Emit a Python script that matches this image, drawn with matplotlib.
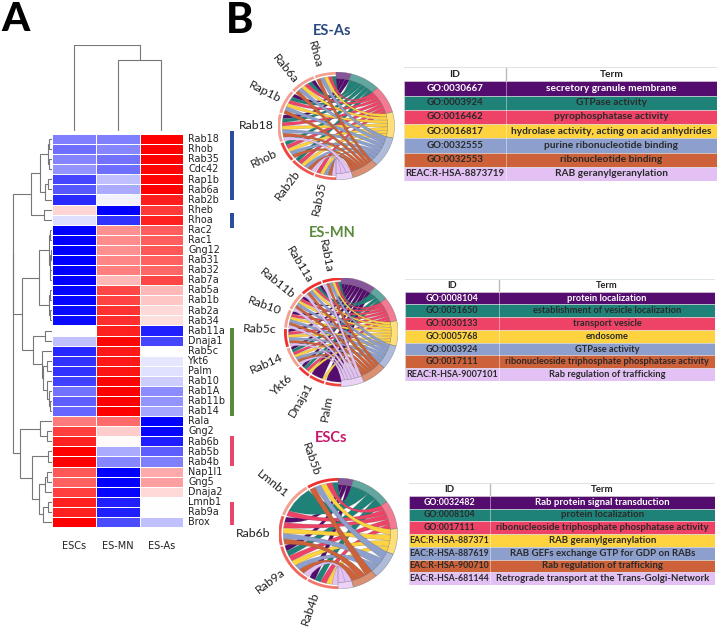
import numpy as np
import matplotlib
matplotlib.use('Agg')
import matplotlib.pyplot as plt
from matplotlib.path import Path
from matplotlib.patches import PathPatch
from matplotlib.colors import LinearSegmentedColormap

W, H = 720, 629
UI_FONT = ['Lato', 'DejaVu Sans']

# heatmap
genes = ['Rab18', 'Rhob', 'Rab35', 'Cdc42', 'Rap1b', 'Rab6a', 'Rab2b', 'Rheb', 'Rhoa', 'Rac2',
         'Rac1', 'Gng12', 'Rab31', 'Rab32', 'Rab7a', 'Rab5a', 'Rab1b', 'Rab2a', 'Rab34', 'Rab11a',
         'Dnaja1', 'Rab5c', 'Ykt6', 'Palm', 'Rab10', 'Rab1A', 'Rab11b', 'Rab14', 'Rala', 'Gng2',
         'Rab6b', 'Rab5b', 'Rab4b', 'Nap1l1', 'Gng5', 'Dnaja2', 'Lmnb1', 'Rab9a', 'Brox']
samples = ['ESCs', 'ES-MN', 'ES-As']
escs = [-0.5, -0.57, -0.48, -0.42, -0.72, -0.65, -0.83, 0.17, -0.13, -1, -1, -1, -1, -1, -1, -0.98, -0.97,
        -0.96, -0.96, 0, -0.25, -0.85, -0.8, -0.8, -0.75, -0.55, -0.63, -0.6, 0.52, 0.75, 0.87, 1, 1,
        0.65, 0.62, 0.75, 0.87, 0.87, 1]
es_mn = [-0.5, -0.47, -0.55, -0.57, -0.25, -0.33, -0.05, -1, -0.8, 0.43, 0.45, 0.43, 0.47, 0.5, 0.28, 0.72,
         0.74, 0.8, 0.82, 0.87, 0.97, 0.9, 0.9, 0.92, 0.98, 1, 1, 1, 0.58, 0.2, 0.02, -0.33, -0.47,
         -1, -1, -0.97, -0.87, -0.87, -0.7]
es_as = [1, 1, 1, 0.98, 0.98, 1, 0.88, 0.77, 0.87, 0.63, 0.63, 0.65, 0.62, 0.6, 0.72, 0.28, 0.22, 0.15,
         0.13, -0.87, -0.72, 0, -0.1, -0.12, -0.2, -0.45, -0.42, -0.35, -1, -0.98, -0.88, -0.63, -0.5,
         0.33, 0.38, 0.15, 0, 0, -0.25]

# dendrogram merges: (height, left, right), ints are leaves
row_tree = (39, (39, (21, (12, (4, (3, 0, 1), (3, 2, 3)), (7, (4, 4, 5), 6)), (8, 7, 8)),
                 (30, (13, (3, (2, 9, 10), (2, (1, 11, 12), (2, 13, 14))), (3, (2, 15, 16), (2, 17, 18))),
                  (19, (7, 19, 20), (10, 21, (9, (5, 22, 23), (5, 24, (3, 25, (2, 26, 27)))))))),
            (32, (12, 28, (5, 29, 30)), (20, (4, 31, 32), (13, (7, (5, 33, 34), 35), (9, (4, 36, 37), 38)))))
col_heights = [70, 85]  # (ES-MN, ES-As) then ESCs

sidebar_starts = [-0.3, 7.84, 19.25, 29.96, 36.5]
sidebar_ends = [6.55, 9.33, 27.98, 32.94, 38.8]
sidebar_colors = ['#2a4f9b', '#2a4f9b', '#5b8a3c', '#e8466a', '#e8466a']

# chords
term_colors = ['#540d6e', '#1e8278', '#ee4266', '#ffd23f', '#8d9fcd', '#cd6139', '#e3c1f5']

as_genes = ['Rhoa', 'Rab6a', 'Rap1b', 'Rab18', 'Rhob', 'Rab2b', 'Rab35']
as_fc = [1, 1, 1, 1, 0.8, 0.65, 0.5]
as_label_angles = [105, 129, 153, 180, 206, 233, 258]
as_term_spans = [15, 30, 30, 28, 33, 27, 17]
as_links = [[0, 1, 1, 1, 1, 1, 0],
            [1, 1, 1, 1, 1, 1, 0],
            [1, 1, 1, 1, 1, 1, 0],
            [1, 1, 1, 1, 1, 1, 1],
            [0, 1, 1, 1, 1, 1, 0],
            [0, 1, 1, 1, 1, 1, 1],
            [0, 0, 1, 1, 1, 1, 1]]

mn_genes = ['Rab1a', 'Rab11a', 'Rab11b', 'Rab10', 'Rab5c', 'Rab14', 'Ykt6', 'Dnaja1', 'Palm']
mn_fc = [0.95, 0.95, 1, 1, 0.95, 1, 0.9, 0.85, 0.8]
mn_label_angles = [101, 121, 141, 160, 178, 204, 223, 240, 260]
mn_term_spans = [36, 16, 26, 27, 26, 25, 24]
mn_links = [[0, 1, 1, 1, 1, 1, 1],
            [1, 1, 1, 1, 1, 1, 1],
            [1, 0, 1, 1, 1, 1, 1],
            [1, 0, 1, 1, 1, 1, 1],
            [1, 0, 1, 1, 1, 1, 1],
            [1, 1, 1, 1, 1, 1, 1],
            [1, 1, 1, 1, 0, 0, 0],
            [4, 0, 0, 1, 0, 0, 0],
            [5, 0, 0, 0, 0, 0, 0]]

sc_genes = ['Rab5b', 'Lmnb1', 'Rab6b', 'Rab9a', 'Rab4b']
sc_fc = [0.95, 1, 0.6, 0.5, 0.35]
sc_label_angles = [109, 141, 180, 217, 251]
sc_term_spans = [15, 40, 30, 27, 28, 25, 15]
sc_links = [[0, 1, 1, 1, 1, 1, 0],
            [0, 5, 1, 0, 0, 0, 0],
            [1, 0, 1, 1, 1, 1, 0],
            [1, 1, 1, 1, 1, 1, 1],
            [1, 1, 1, 1, 0, 0, 1]]

# tables
as_ids = ['GO:0030667', 'GO:0003924', 'GO:0016462', 'GO:0016817', 'GO:0032555', 'GO:0032553', 'REAC:R-HSA-8873719']
as_terms = ['secretory granule membrane', 'GTPase activity', 'pyrophosphatase activity',
            'hydrolase activity, acting on acid anhydrides', 'purine ribonucleotide binding',
            'ribonucleotide binding', 'RAB geranylgeranylation']
mn_ids = ['GO:0008104', 'GO:0051650', 'GO:0030133', 'GO:0005768', 'GO:0003924', 'GO:0017111', 'REAC:R-HSA-9007101']
mn_terms = ['protein localization', 'establishment of vesicle localization', 'transport vesicle', 'endosome',
            'GTPase activity', 'ribonucleoside triphosphate phosphatase activity', 'Rab regulation of trafficking']
sc_ids = ['GO:0032482', 'GO:0008104', 'GO:0017111', 'EAC:R-HSA-887371', 'EAC:R-HSA-887619', 'EAC:R-HSA-900710',
          'EAC:R-HSA-681144']
sc_terms = ['Rab protein signal transduction', 'protein localization',
            'ribonucleoside triphosphate phosphatase activity', 'RAB geranylgeranylation',
            'RAB GEFs exchange GTP for GDP on RABs', 'Rab regulation of trafficking',
            'Retrograde transport at the Trans-Golgi-Network']

fig = plt.figure(figsize=(W / 100, H / 100), dpi=100)


def px_axes(x0, y0, x1, y1):
    ax = fig.add_axes([x0 / W, 1 - y1 / H, (x1 - x0) / W, (y1 - y0) / H])
    ax.axis('off')
    return ax


def draw_tree(ax, node):
    # returns (y, height) of the node
    if not isinstance(node, tuple):
        return node + 0.5, 0
    h, a, b = node
    ya, ha = draw_tree(ax, a)
    yb, hb = draw_tree(ax, b)
    ax.plot([ha, h, h, hb], [ya, ya, yb, yb], color='#777777', lw=0.8, solid_joinstyle='miter')
    return (ya + yb) / 2, h


# A: heatmap
ax = px_axes(52, 134, 183.3, 527)
matrix = np.array([escs, es_mn, es_as]).T
ax.pcolormesh(matrix, cmap='bwr', vmin=-1, vmax=1, edgecolors='#ffffff', linewidth=0.4)
ax.set_xlim(0, 3)
ax.set_ylim(39, 0)
for i, g in enumerate(genes):
    ax.text(3.11, i + 0.52, g, fontsize=6.9, va='center', ha='left', color='#222222')
for i, s in enumerate(samples):
    ax.text(i + 0.5, 40.9, s, fontsize=7, va='center', ha='center', color='#222222')

ax = px_axes(0, 134, 52, 527)
draw_tree(ax, row_tree)
ax.set_xlim(52, 0)
ax.set_ylim(39, 0)

ax = px_axes(52, 45, 183.3, 131)
ax.plot([1.5, 1.5, 2.5, 2.5], [0, col_heights[0], col_heights[0], 0], color='#777777', lw=0.8)
ax.plot([0.5, 0.5, 2, 2], [0, col_heights[1], col_heights[1], col_heights[0]], color='#777777', lw=0.8)
ax.set_xlim(0, 3)
ax.set_ylim(0, col_heights[1])

ax = px_axes(230, 134, 234, 527)
ax.bar(np.zeros(5), np.array(sidebar_ends) - np.array(sidebar_starts), bottom=sidebar_starts, width=1,
       color=sidebar_colors, clip_on=False)
ax.set_xlim(-0.5, 0.5)
ax.set_ylim(39, 0)

fc_cmap = LinearSegmentedColormap.from_list('fc', ['#f4a090', '#ee2a2a'])


def polar(angles, r):
    a = np.radians(angles)
    return np.column_stack([r * np.cos(a), r * np.sin(a)])


def band(ax, a0, a1, r0, r1, **kw):
    n = max(int(abs(a1 - a0)) + 2, 3)
    ang = np.linspace(a0, a1, n)
    pts = np.vstack([polar(ang, r1), polar(ang[::-1], r0)])
    ax.fill(pts[:, 0], pts[:, 1], **kw)


def ribbon(ax, g0, g1, t0, t1, color, z):
    n = max(int(abs(t1 - t0)) + 2, 3)
    arc_t = polar(np.linspace(t0, t1, n), 0.88)
    arc_g = polar(np.linspace(g1, g0, 4), 0.92)
    # control points pulled towards the middle, so each ribbon thins out there
    ctrl_a = 0.16 * (arc_g[-1] + arc_t[0])
    ctrl_b = 0.16 * (arc_t[-1] + arc_g[0])
    verts = [arc_g[-1], ctrl_a, arc_t[0]] + list(arc_t[1:]) + [ctrl_b, arc_g[0]] + list(arc_g[1:])
    codes = [Path.MOVETO, Path.CURVE3, Path.CURVE3] + [Path.LINETO] * (n - 1) \
        + [Path.CURVE3, Path.CURVE3] + [Path.LINETO] * 3
    ax.add_patch(PathPatch(Path(verts, codes), facecolor=color, edgecolor='#55555566', lw=0.35, zorder=z))


def chord(cx, cy, rx, ry, names, fc, label_angles, term_spans, links, label_r):
    ax = px_axes(cx - rx, cy - ry, cx + rx, cy + ry)
    ax.set_xlim(-1, 1)
    ax.set_ylim(-1, 1)
    links = np.array(links)
    gap = 1.5
    unit = (180 - gap * (len(names) - 1)) / links.sum()

    # term arcs run clockwise from the top, gene arcs counter clockwise
    term_edges = 90 - np.concatenate([[0], np.cumsum(term_spans)])
    counts = (links > 0).sum(axis=0)
    used = np.zeros(len(term_spans), dtype=int)
    a = 90.0
    for g in range(len(names)):
        g_end = a + links[g].sum() * unit
        band(ax, a, g_end, 0.95, 1.0, color=fc_cmap(fc[g]), lw=0)
        ga = a
        for t in np.nonzero(links[g])[0]:
            ge = ga + links[g, t] * unit
            step = term_spans[t] / counts[t]
            t0 = term_edges[t] - used[t] * step
            ribbon(ax, ga, ge, t0, t0 - step, term_colors[t], 2 + t / 10)
            used[t] += 1
            ga = ge
        pos = polar([label_angles[g]], label_r)[0]
        ax.text(pos[0], pos[1], names[g], rotation=label_angles[g] - 180, rotation_mode='anchor',
                ha='center', va='center', fontsize=8.8, family=UI_FONT, color='#222222')
        a = g_end + gap
    for t, col in enumerate(term_colors):
        band(ax, term_edges[t], term_edges[t + 1], 0.88, 1.0, facecolor=col, alpha=0.7,
             edgecolor='#77777799', lw=0.4)


chord(336, 126, 58.5, 54, as_genes, as_fc, as_label_angles, as_term_spans, as_links, 1.37)
chord(341, 332, 57, 54.5, mn_genes, mn_fc, mn_label_angles, mn_term_spans, mn_links, 1.43)
chord(338, 533.5, 59.5, 55.5, sc_genes, sc_fc, sc_label_angles, sc_term_spans, sc_links, 1.42)


def go_table(x0, y0, x1, y1, split, ids, terms, fs, id_fs):
    ax = px_axes(x0, y0, x1, y1)
    frac = (split - x0) / (x1 - x0)
    rows = np.arange(1, len(ids) + 1)
    ax.barh(rows, np.ones(len(ids)), height=1, color=term_colors, edgecolor='#dddddd', lw=0.4)
    ax.plot([frac, frac], [-0.5, 0.5], color='#bbbbbb', lw=1)
    ax.plot([frac, frac], [0.5, len(ids) + 0.5], color='#ffffff', lw=0.5, alpha=0.6)
    ax.plot([0, 1], [-0.5, -0.5], color='#dde6e3', lw=0.8)
    ax.text(frac / 2, 0, 'ID', ha='center', va='center', fontsize=fs, family=UI_FONT, weight='bold', color='#222222')
    ax.text((1 + frac) / 2, 0, 'Term', ha='center', va='center', fontsize=fs, family=UI_FONT, weight='bold',
            color='#222222')
    for i, r in enumerate(rows):
        col = '#ffffff' if i == 0 else '#2a2a2a'
        ax.text(frac / 2, r, ids[i], ha='center', va='center', fontsize=id_fs, family=UI_FONT, weight='bold', color=col)
        ax.text((1 + frac) / 2, r, terms[i], ha='center', va='center', fontsize=fs, family=UI_FONT, weight='bold',
                color=col)
    ax.set_xlim(0, 1)
    ax.set_ylim(len(ids) + 0.5, -0.5)


go_table(404, 67, 717, 181, 506, as_ids, as_terms, 7.3, 6.9)
go_table(405, 279, 715, 381, 499, mn_ids, mn_terms, 6.7, 6.4)
go_table(409, 483, 715, 585, 490, sc_ids, sc_terms, 6.9, 6.3)

# panel letters and titles
fig.text(1 / W, 1 - 31 / H, 'A', fontsize=29, family=UI_FONT, weight='black', va='baseline')
fig.text(226 / W, 1 - 33 / H, 'B', fontsize=30, family=UI_FONT, weight='black', va='baseline')
fig.text(332 / W, 1 - 31 / H, 'ES-As', fontsize=10.5, family=UI_FONT, weight='bold', color='#2a4a7f', ha='center', va='center')
fig.text(332 / W, 1 - 233 / H, 'ES-MN', fontsize=10.5, family=UI_FONT, weight='bold', color='#5b8a3c', ha='center', va='center')
fig.text(331 / W, 1 - 438 / H, 'ESCs', fontsize=10.5, family=UI_FONT, weight='bold', color='#c9176e', ha='center', va='center')

fig.savefig('out.png', dpi=100)
